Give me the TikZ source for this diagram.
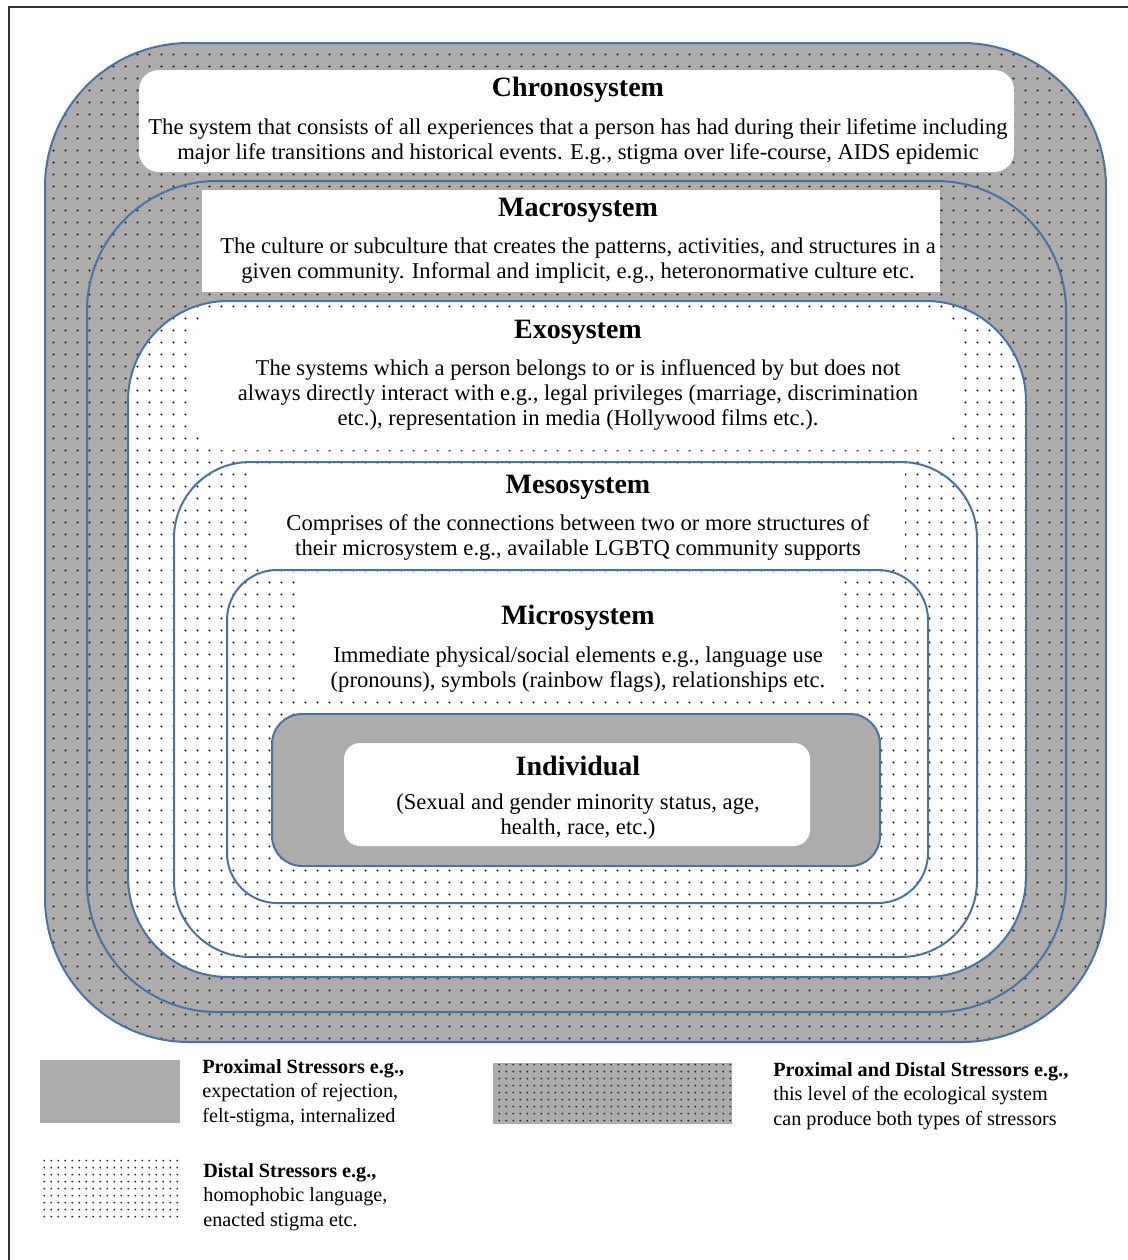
\documentclass[tikz,border=0pt]{standalone}
\usepackage{fontspec}
\setmainfont{Liberation Serif}
\usetikzlibrary{patterns}
\pgfdeclarepatternformonly{mydots}{\pgfqpoint{0pt}{0pt}}{\pgfqpoint{6pt}{6pt}}{\pgfqpoint{6pt}{6pt}}{\pgfpathcircle{\pgfqpoint{3pt}{3pt}}{0.6pt}\pgfusepath{fill}}
\pgfdeclarepatternformonly{finedots}{\pgfqpoint{0pt}{0pt}}{\pgfqpoint{3.4pt}{3.4pt}}{\pgfqpoint{3.4pt}{3.4pt}}{\pgfpathcircle{\pgfqpoint{1.7pt}{1.7pt}}{0.5pt}\pgfusepath{fill}}
\definecolor{gry}{RGB}{174,171,171}
\definecolor{bord}{RGB}{74,114,166}
\begin{document}
\begin{tikzpicture}[x=0.5pt,y=-0.5pt,
  graylayer/.style={preaction={fill=gry}, pattern=mydots, pattern color=black!90, draw=bord, line width=1pt},
  whitelayer/.style={preaction={fill=white}, pattern=mydots, pattern color=black!90, draw=bord, line width=1pt},
  title/.style={font=\fontsize{14}{16}\selectfont\bfseries, inner sep=0pt},
  body/.style={font=\fontsize{11.3}{12.5}\selectfont, align=center, inner sep=0pt},
  legtext/.style={font=\fontsize{10.1}{12.25}\selectfont, align=left, inner sep=0pt, anchor=west}]
\useasboundingbox (0,0) rectangle (1128,1260);
\fill[white] (0,0) rectangle (1128,1260);
\draw[line width=1pt, black!80] (9,1260) -- (9,7) -- (1128,7);
% Chronosystem
\draw[graylayer, rounded corners=72pt] (45,43) rectangle (1106,1042);
\fill[white, rounded corners=10pt] (139,70) rectangle (1014,172);
% Macrosystem
\draw[graylayer, rounded corners=65pt] (87,181) rectangle (1066,1012);
\fill[white] (202,190) rectangle (940,292);
% Exosystem
\draw[whitelayer, rounded corners=50pt] (128,301) rectangle (1026,977);
\fill[white, rounded corners=12pt] (196,310) rectangle (955,450);
% Mesosystem
\draw[whitelayer, rounded corners=38pt] (174,462) rectangle (977,957);
\fill[white] (255,470) rectangle (905,566);
% Microsystem
\draw[whitelayer, rounded corners=25pt] (227,570) rectangle (928,903);
\fill[white] (303,578) rectangle (840,697);
% Individual
\draw[fill=gry, draw=bord, line width=1pt, rounded corners=15pt] (272,714) rectangle (880,866);
\fill[white, rounded corners=8pt] (344,743) rectangle (810,846);

\node[title] (chronoT) at (578,90) {Chronosystem};
\node[body] (chronoB) at (578,141) {The system that consists of all experiences that a person has had during their lifetime including\\major life transitions and historical events. E.g., stigma over life-course, AIDS epidemic};
\node[title] (macroT) at (578,210) {Macrosystem};
\node[body] (macroB) at (578,261) {The culture or subculture that creates the patterns, activities, and structures in a\\given community. Informal and implicit, e.g., heteronormative culture etc.};
\node[title] (exoT) at (578,332) {Exosystem};
\node[body] (exoB) at (578,395) {The systems which a person belongs to or is influenced by but does not\\always directly interact with e.g., legal privileges (marriage, discrimination\\etc.), representation in media (Hollywood films etc.).};
\node[title] (mesoT) at (578,487) {Mesosystem};
\node[body] (mesoB) at (578,537) {Comprises of the connections between two or more structures of\\their microsystem e.g., available LGBTQ community supports};
\node[title] (microT) at (578,618) {Microsystem};
\node[body] (microB) at (578,670) {Immediate physical/social elements e.g., language use\\(pronouns), symbols (rainbow flags), relationships etc.};
\node[title] (indT) at (578,766) {Individual};
\node[body] (indB) at (578,817) {(Sexual and gender minority status, age,\\health, race, etc.)};

% Legend
\path[fill=gry] (40,1060) rectangle (180,1123);
\path[preaction={fill=gry}, pattern=finedots, pattern color=black!85] (493,1063) rectangle (732,1124);
\path[pattern=finedots, pattern color=black!85] (40,1157) rectangle (180,1219);
\node[legtext] (leg1) at (202,1093) {\textbf{Proximal Stressors e.g.,}\\expectation of rejection,\\felt-stigma, internalized};
\node[legtext] (leg2) at (773,1096) {\textbf{Proximal and Distal Stressors e.g.,}\\this level of the ecological system\\can produce both types of stressors};
\node[legtext] (leg3) at (203,1197) {\textbf{Distal Stressors e.g.,}\\homophobic language,\\enacted stigma etc.};
\end{tikzpicture}
\end{document}
